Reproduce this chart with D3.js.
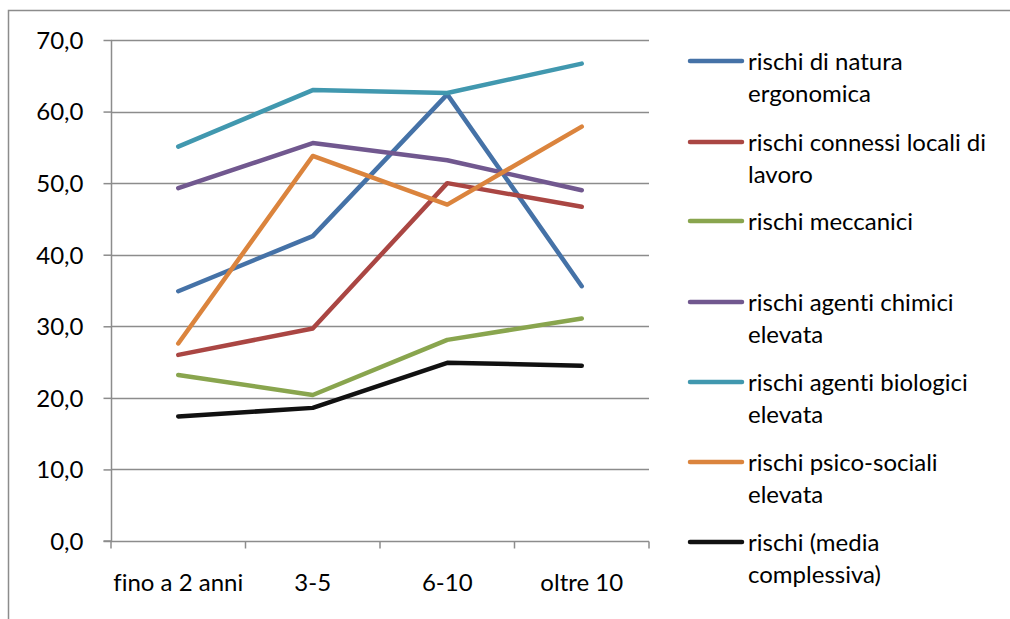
<!DOCTYPE html>
<html><head><meta charset="utf-8">
<script src="https://cdn.jsdelivr.net/npm/d3@7"></script>
<style>body{margin:0;background:#fff;} svg{display:block;font-family:"Lato",sans-serif;font-variant-ligatures:none;}</style>
</head><body><svg id="c" width="1010" height="619"></svg>
<script>
const categories = ["fino a 2 anni", "3-5", "6-10", "oltre 10"];
const yTicks = [0, 10, 20, 30, 40, 50, 60, 70];
const seriesNames = [
  ["rischi di natura", "ergonomica"],
  ["rischi connessi locali di", "lavoro"],
  ["rischi meccanici"],
  ["rischi agenti chimici", "elevata"],
  ["rischi agenti biologici", "elevata"],
  ["rischi psico-sociali", "elevata"],
  ["rischi (media", "complessiva)"]
];
const colors = ["#4572a7", "#aa4643", "#89a54e", "#71588f", "#4198af", "#db843d", "#111111"];
const ergonomica = [34.9, 42.6, 62.4, 35.6];
const locali = [26.0, 29.7, 50.0, 46.7];
const meccanici = [23.2, 20.4, 28.1, 31.1];
const chimici = [49.3, 55.6, 53.2, 49.0];
const biologici = [55.1, 63.0, 62.6, 66.7];
const psicosociali = [27.6, 53.8, 47.0, 57.9];
const media = [17.4, 18.6, 24.9, 24.5];
const seriesValues = [ergonomica, locali, meccanici, chimici, biologici, psicosociali, media];

const FS = 24;
const svg = d3.select("#c");
const grid = "#8c8c8c";
// frame
svg.append("path").attr("d", "M8.5,619 L8.5,10.5 L1010,10.5").attr("fill", "none").attr("stroke", grid).attr("stroke-width", 1.5);

const x0 = 111, x1 = 649, yTop = 40, yBot = 541;
const x = d3.scaleBand().domain(categories).range([x0, x1]);
const y = d3.scaleLinear().domain([0, 70]).range([yBot, yTop]);

// gridlines
svg.append("g").selectAll("line").data(yTicks.filter(d => d > 0)).join("line")
  .attr("x1", x0).attr("x2", x1).attr("y1", d => Math.round(y(d)) + 0.5).attr("y2", d => Math.round(y(d)) + 0.5)
  .attr("stroke", grid).attr("stroke-width", 1.5);

// y axis
const yAxis = d3.axisLeft(y).tickValues(yTicks).tickSize(8).tickPadding(20)
  .tickFormat(d => d3.format(".1f")(d).replace(".", ","));
const gy = svg.append("g").attr("transform", `translate(${x0 + 0.5},0)`).call(yAxis);
gy.select(".domain").attr("stroke", grid).attr("stroke-width", 1.5).attr("d", `M-8,${yBot}H0V${yTop}`);
gy.selectAll(".tick line").attr("stroke", grid).attr("stroke-width", 1.5);
gy.selectAll(".tick text").attr("font-size", FS).attr("fill", "#000").attr("font-family", "Lato, sans-serif").attr("dy", "0.35em");

// x axis
const gx = svg.append("g").attr("transform", `translate(0,${yBot + 0.5})`);
gx.append("line").attr("x1", x0).attr("x2", x1).attr("stroke", grid).attr("stroke-width", 1.5);
const bounds = categories.map(c => x(c)).concat([x1]);
gx.selectAll("line.tk").data(bounds).join("line").attr("class", "tk")
  .attr("x1", d => d).attr("x2", d => d).attr("y1", 0).attr("y2", 7).attr("stroke", grid).attr("stroke-width", 1.5);
gx.selectAll("text").data(categories).join("text")
  .attr("x", d => x(d) + x.bandwidth() / 2).attr("y", 49).attr("text-anchor", "middle")
  .attr("font-size", FS).attr("fill", "#000").text(d => d);

// lines
const line = d3.line().x((d, i) => x(categories[i]) + x.bandwidth() / 2).y(d => y(d));
svg.append("g").selectAll("path").data(seriesValues).join("path")
  .attr("d", d => line(d)).attr("fill", "none")
  .attr("stroke", (d, i) => colors[i]).attr("stroke-width", 4.5)
  .attr("stroke-linejoin", "round").attr("stroke-linecap", "round");

// legend
const legY = [61, 142, 221, 302, 382, 462, 542];
const lg = svg.append("g").selectAll("g").data(seriesNames).join("g")
  .attr("transform", (d, i) => `translate(690,${legY[i]})`);
lg.append("line").attr("x1", 0).attr("x2", 52).attr("stroke", (d, i) => colors[i])
  .attr("stroke-width", 4.5).attr("stroke-linecap", "round");
lg.append("text").attr("x", 58).attr("y", 8.5).attr("font-size", FS).attr("fill", "#000")
  .selectAll("tspan").data(d => d).join("tspan").attr("x", 58).attr("dy", (d, i) => i ? 32 : 0).text(d => d);
</script></body></html>
